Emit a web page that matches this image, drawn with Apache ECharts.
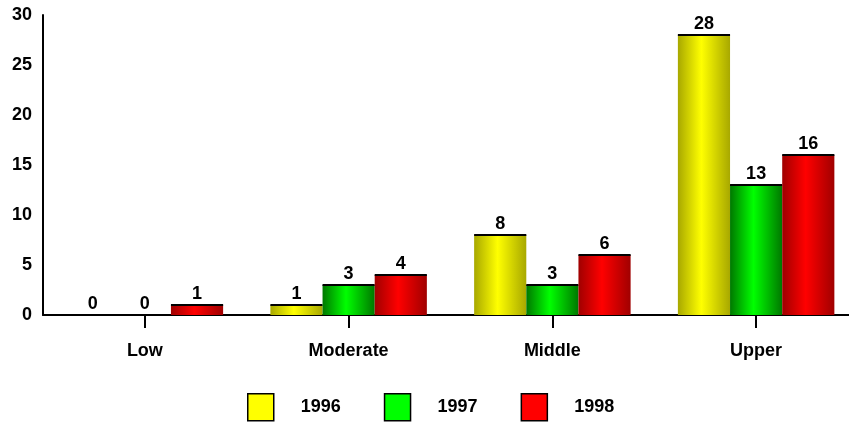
<!DOCTYPE html>
<html>
<head>
<meta charset="utf-8">
<script src="https://cdn.jsdelivr.net/npm/echarts@6/dist/echarts.min.js"></script>
<style>
  html, body { margin: 0; padding: 0; background: #fff; }
  #main { width: 849px; height: 423px; }
</style>
</head>
<body>
<div id="main"></div>
<script>
var categories = ['Low', 'Moderate', 'Middle', 'Upper'];
var years = ['1996', '1997', '1998'];
var values1996 = [0, 1, 8, 28];
var values1997 = [0, 3, 3, 13];
var values1998 = [1, 4, 6, 16];
var yTicks = [0, 5, 10, 15, 20, 25, 30];

var FAMILY = '"Liberation Sans", Arial, sans-serif';
var FONT = 'bold 18px ' + FAMILY;
var colors = [
  { base: '#ffff00', dark: '#a8a800', mid: '#ffff00' },
  { base: '#00ff00', dark: '#007800', mid: '#00ff00' },
  { base: '#ff0000', dark: '#a00000', mid: '#ff0000' }
];

function renderBar(s) {
  return function (params, api) {
    var idx = api.value(0);
    var v = api.value(1);
    var band = api.size([1, 0])[0];
    var w = band * 0.256;
    var cx = api.coord([idx, 0])[0] + (s - 1) * w;
    var top = api.coord([idx, v])[1];
    var base = api.coord([idx, 0])[1];
    var c = colors[s];
    return {
      type: 'group',
      children: [
        {
          type: 'rect',
          shape: { x: cx - w / 2, y: top, width: w, height: base - top },
          style: {
            fill: new echarts.graphic.LinearGradient(0, 0, 1, 0, [
              { offset: 0, color: c.dark },
              { offset: 0.45, color: c.mid },
              { offset: 1, color: c.dark }
            ])
          }
        },
        {
          type: 'line',
          shape: { x1: cx - w / 2, y1: top, x2: cx + w / 2, y2: top },
          style: { stroke: v > 0 ? '#000' : 'transparent', lineWidth: 2 }
        },
        {
          type: 'text',
          style: {
            text: String(v), x: cx, y: top - 2,
            align: 'center', verticalAlign: 'bottom',
            font: FONT, fill: '#000'
          }
        }
      ]
    };
  };
}

function makeSeries(name, vals, s) {
  return {
    name: name,
    type: 'custom',
    renderItem: renderBar(s),
    itemStyle: { color: colors[s].base },
    encode: { x: 0, y: 1 },
    data: vals.map(function (v, i) { return [i, v]; })
  };
}

var chart = echarts.init(document.getElementById('main'));
chart.setOption({
  animation: false,
  grid: { left: 43, width: 815, top: 15, bottom: 108, outerBoundsMode: 'none', containLabel: false },
  legend: {
    data: years,
    left: 247,
    top: 393,
    padding: 0,
    icon: 'rect',
    itemWidth: 26,
    itemHeight: 27,
    itemGap: 43,
    itemStyle: { borderColor: '#000', borderWidth: 1.5 },
    textStyle: { fontWeight: 'bold', fontSize: 18, fontFamily: FAMILY, color: '#000', padding: [0, 0, 0, 22] }
  },
  xAxis: {
    type: 'category',
    data: categories,
    axisLine: { lineStyle: { color: '#000', width: 2 } },
    axisTick: { show: true, alignWithLabel: true, length: 13, lineStyle: { color: '#000', width: 2 } },
    axisLabel: { margin: 27, color: '#000', fontWeight: 'bold', fontSize: 18, fontFamily: FAMILY }
  },
  yAxis: {
    type: 'value',
    min: yTicks[0],
    max: yTicks[yTicks.length - 1],
    interval: 5,
    splitLine: { show: false },
    axisLine: { show: true, lineStyle: { color: '#000', width: 2 } },
    axisTick: { show: false },
    axisLabel: { margin: 11, color: '#000', fontWeight: 'bold', fontSize: 18, fontFamily: FAMILY }
  },
  series: [
    makeSeries(years[0], values1996, 0),
    makeSeries(years[1], values1997, 1),
    makeSeries(years[2], values1998, 2)
  ]
});
</script>
</body>
</html>
